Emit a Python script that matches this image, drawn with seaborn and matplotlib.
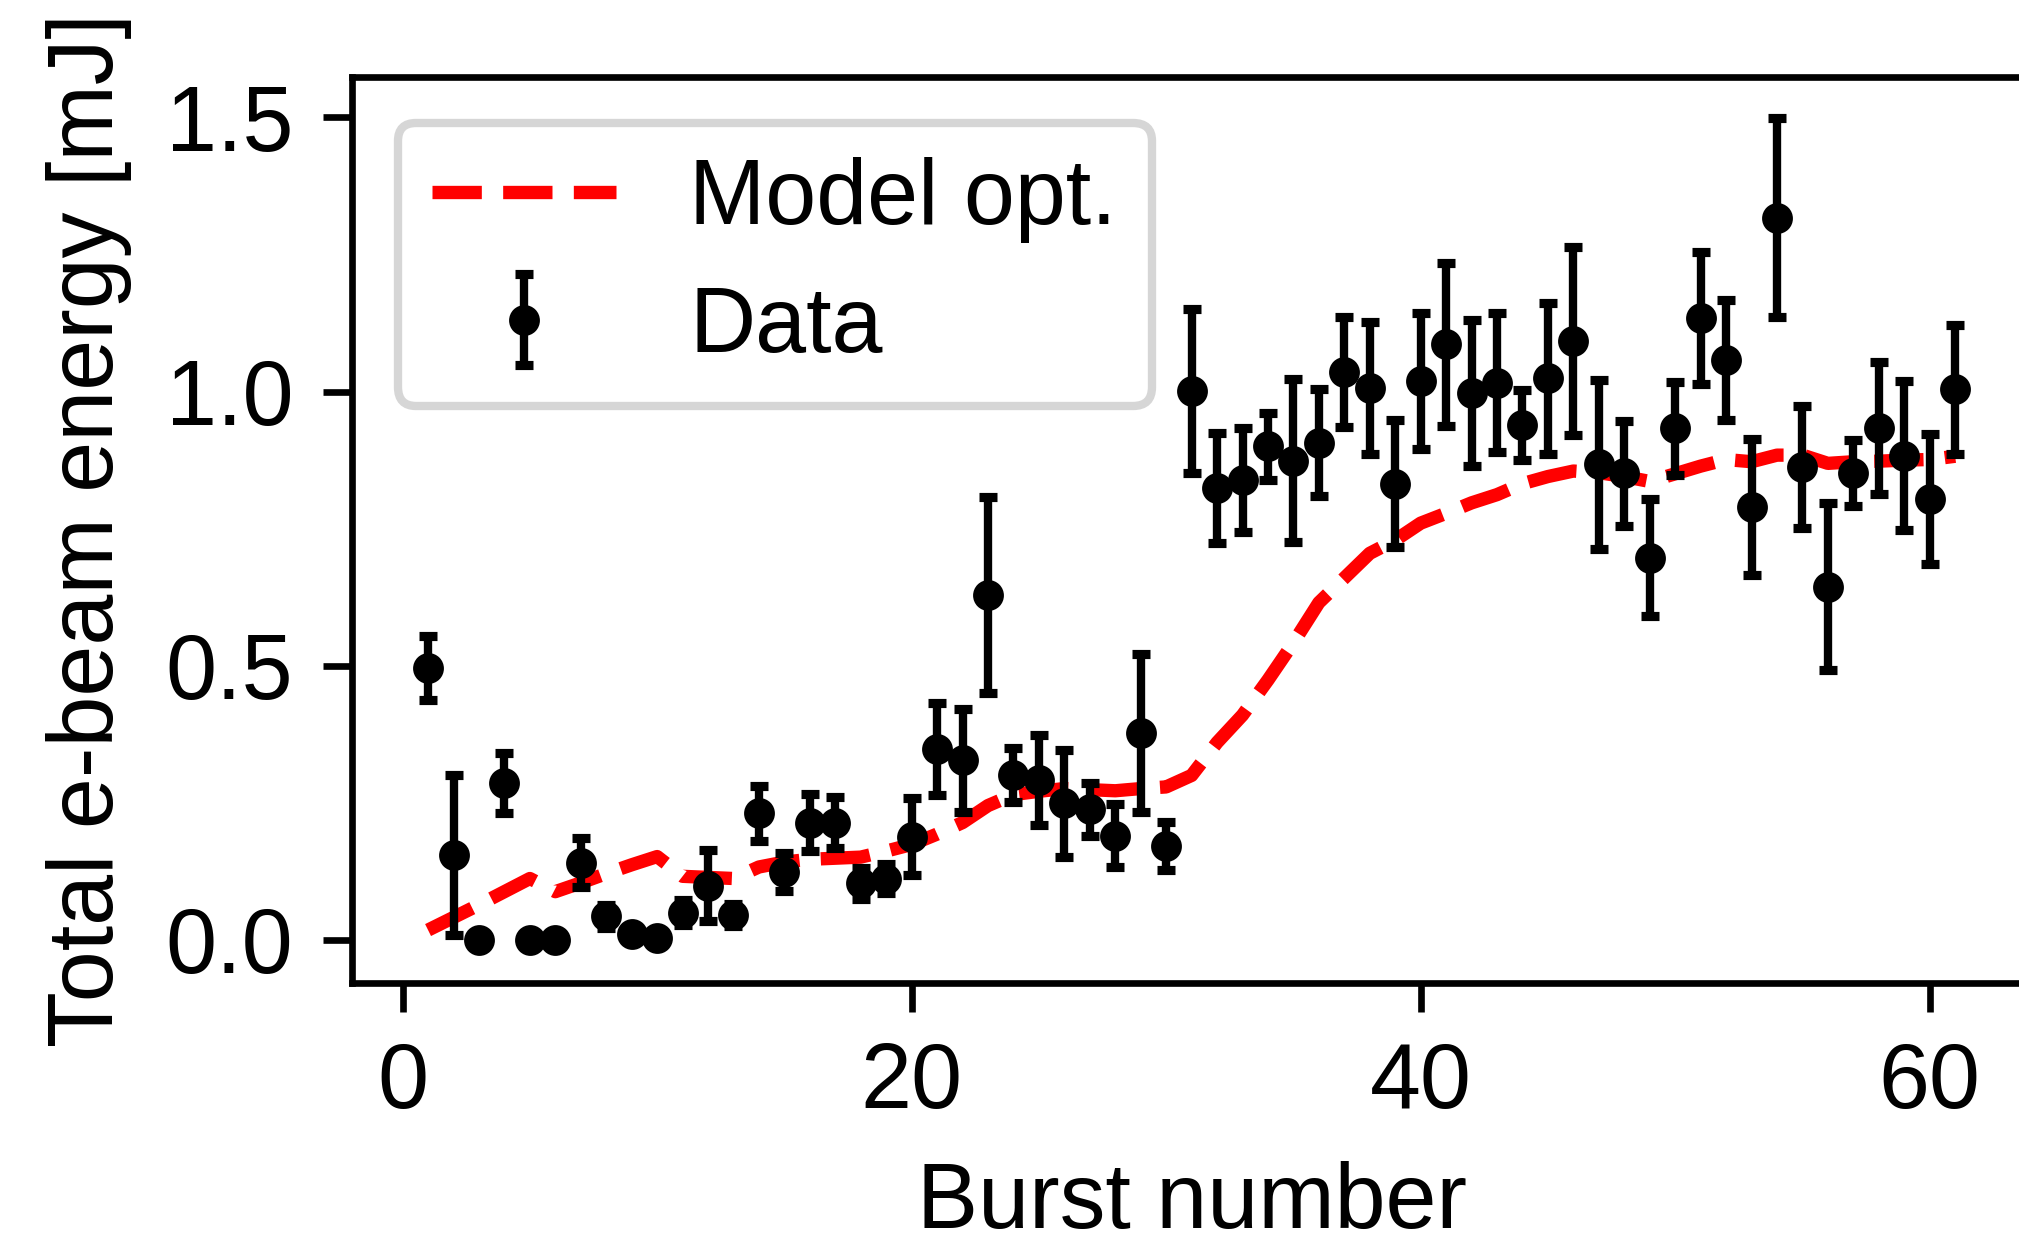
import numpy as np
import pandas as pd
import matplotlib
matplotlib.use("Agg")
import matplotlib.pyplot as plt
import seaborn as sns

# Burst index
burst = list(range(1, 62))

# Measured total e-beam energy per burst [mJ]
energy = [
    0.496, 0.155, 0.000, 0.286, 0.000, 0.000, 0.141, 0.043, 0.010, 0.004,
    0.050, 0.099, 0.046, 0.231, 0.124, 0.214, 0.214, 0.103, 0.112, 0.188,
    0.348, 0.328, 0.629, 0.301, 0.292, 0.249, 0.238, 0.190, 0.378, 0.171,
    1.001, 0.824, 0.839, 0.900, 0.874, 0.907, 1.036, 1.007, 0.832, 1.019,
    1.086, 0.998, 1.016, 0.939, 1.024, 1.092, 0.867, 0.851, 0.697, 0.933,
    1.134, 1.057, 0.790, 1.317, 0.862, 0.644, 0.851, 0.933, 0.883, 0.804,
    1.004,
]

# Uncertainty of each measurement [mJ]
energy_err = [
    0.058, 0.146, 0.006, 0.054, 0.005, 0.005, 0.044, 0.021, 0.007, 0.006,
    0.022, 0.065, 0.020, 0.050, 0.034, 0.052, 0.047, 0.029, 0.026, 0.070,
    0.084, 0.094, 0.178, 0.049, 0.082, 0.097, 0.049, 0.057, 0.144, 0.044,
    0.150, 0.101, 0.095, 0.061, 0.148, 0.098, 0.100, 0.120, 0.116, 0.124,
    0.148, 0.133, 0.127, 0.064, 0.138, 0.171, 0.154, 0.096, 0.107, 0.085,
    0.120, 0.109, 0.124, 0.181, 0.111, 0.152, 0.060, 0.120, 0.136, 0.118,
    0.117,
]

# Optimised model prediction [mJ]
model_opt = [
    0.018, 0.041, 0.064, 0.088, 0.112, 0.088, 0.104, 0.121, 0.137, 0.152,
    0.116, 0.114, 0.112, 0.133, 0.142, 0.147, 0.149, 0.151, 0.162, 0.174,
    0.193, 0.214, 0.245, 0.265, 0.271, 0.276, 0.274, 0.272, 0.276, 0.279,
    0.300, 0.360, 0.410, 0.474, 0.542, 0.615, 0.660, 0.705, 0.729, 0.760,
    0.778, 0.797, 0.812, 0.832, 0.845, 0.855, 0.852, 0.845, 0.836, 0.850,
    0.864, 0.876, 0.872, 0.884, 0.884, 0.869, 0.872, 0.873, 0.875, 0.876,
    0.882,
]

x_ticks = [0, 20, 40, 60]
y_ticks = [0.0, 0.5, 1.0, 1.5]

df = pd.DataFrame({"burst": burst, "energy": energy,
                   "err": energy_err, "model": model_opt})

sns.set_theme(style="ticks", rc={
    "axes.edgecolor": "black",
    "axes.linewidth": 0.8,
    "xtick.color": "black",
    "ytick.color": "black",
    "xtick.major.size": 3.5,
    "ytick.major.size": 3.5,
    "xtick.major.width": 0.8,
    "ytick.major.width": 0.8,
    "xtick.major.pad": 3.5,
    "ytick.major.pad": 3.5,
    "font.size": 11,
    "axes.labelsize": 11,
    "xtick.labelsize": 11,
    "ytick.labelsize": 11,
    "legend.fontsize": 11,
    "patch.linewidth": 1.0,
    "lines.markeredgewidth": 0.9,
    "lines.solid_capstyle": "projecting",
    "text.color": "black",
    "axes.labelcolor": "black",
})
plt.rcParams["font.family"] = ["Liberation Sans", "DejaVu Sans"]

fig = plt.figure(figsize=(2019 / 600, 1238 / 600), dpi=600)
ax = fig.add_axes([0.1742, 0.206, 0.832, 0.732])

sns.lineplot(data=df, x="burst", y="model", ax=ax, color="red",
             linestyle="--", linewidth=1.6, label="Model opt.")

ax.errorbar(df["burst"], df["energy"], yerr=df["err"], fmt="o",
            color="black", markersize=2.8, elinewidth=1.0,
            capsize=1.1, capthick=1.1, label="Data", zorder=3)

ax.set_xlim(-2, 64)
ax.set_ylim(-0.0785, 1.574)
ax.set_xticks(x_ticks)
ax.set_yticks(y_ticks)
ax.set_xlabel("Burst number")
ax.set_ylabel("Total e-beam energy [mJ]")

ax.legend(loc="upper left", frameon=True, fancybox=True,
          edgecolor="0.8", framealpha=0.8, labelspacing=0.45,
          borderpad=0.38)

fig.savefig("out.png", dpi=600)
